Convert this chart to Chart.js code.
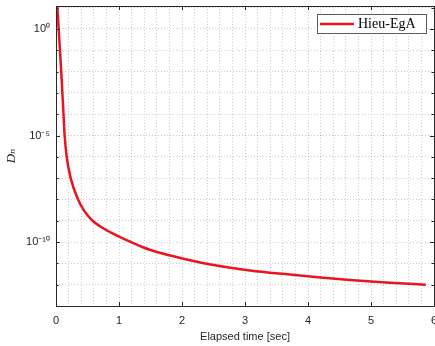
<!DOCTYPE html>
<html>
<head>
<meta charset="utf-8">
<script src="https://cdn.jsdelivr.net/npm/chart.js@4/dist/chart.umd.min.js"></script>
<style>
html,body{margin:0;padding:0;background:#fff;overflow:hidden;width:435px;height:346px;}
#wrap{position:absolute;left:0;top:0;width:435px;height:346px;}
</style>
</head>
<body>
<div id="wrap"><canvas id="c" width="435" height="346"></canvas></div>
<script>
// ---- data ----
const seriesName = 'Hieu-EgA';
const elapsedTime = [0.005, 0.02, 0.042, 0.083, 0.119, 0.137, 0.17, 0.233, 0.35, 0.44, 0.58, 0.71, 0.92, 1.19, 1.37, 1.50, 1.80, 2.02, 2.55, 3.08, 3.71, 4.24, 4.77, 5.30, 5.87];
const dnValues = [40, 12, 1, 1e-2, 1e-4, 1e-5, 1e-6, 1e-7, 1e-8, 3.16e-9, 1e-9, 5.25e-10, 2.34e-10, 1e-10, 5.89e-11, 4.27e-11, 2.40e-11, 1.66e-11, 7.94e-12, 4.68e-12, 3.02e-12, 2.14e-12, 1.58e-12, 1.23e-12, 1.0e-12];
const xMajorTicks = [0, 1, 2, 3, 4, 5, 6];
const yDecadeTicks = [1e1, 1e0, 1e-1, 1e-2, 1e-3, 1e-4, 1e-5, 1e-6, 1e-7, 1e-8, 1e-9, 1e-10, 1e-11, 1e-12, 1e-13];
const yMajorTicks = [1e0, 1e-5, 1e-10];
const yTickLabels = ['10\u2070', '10\u207B\u2075', '10\u207B\u00B9\u2070'];
const xTitle = 'Elapsed time [sec]';
const yTitle = 'D\u2099';

const points = elapsedTime.map((t, i) => ({x: t, y: dnValues[i]}));
const xMinorStep = 0.2;
const AXIS = '#262626';
const GRID = 'rgba(0,0,0,0.2)';

const framePlugin = {
  id: 'frame',
  afterDraw(chart) {
    const ctx = chart.ctx, a = chart.chartArea;
    const xs = chart.scales.x, ys = chart.scales.y;
    ctx.save();
    ctx.strokeStyle = AXIS; ctx.lineWidth = 1;
    ctx.beginPath();
    ctx.moveTo(Math.round(a.left) + 0.5, Math.round(a.bottom) + 0.5);
    ctx.lineTo(Math.round(a.left) + 0.5, Math.round(a.top) + 0.5);
    ctx.lineTo(Math.round(a.right) + 0.5, Math.round(a.top) + 0.5);
    ctx.lineTo(Math.round(a.right) + 0.5, Math.round(a.bottom) + 0.5);
    ctx.lineTo(Math.round(a.left) + 0.5, Math.round(a.bottom) + 0.5);
    ctx.stroke();
    ctx.beginPath();
    xMajorTicks.forEach(v => {
      const px = Math.round(xs.getPixelForValue(v)) + 0.5;
      ctx.moveTo(px, a.bottom); ctx.lineTo(px, a.bottom - 4);
      ctx.moveTo(px, a.top); ctx.lineTo(px, a.top + 4);
    });
    yDecadeTicks.forEach(v => {
      const py = Math.round(ys.getPixelForValue(v)) + 0.5;
      if (py < a.top || py > a.bottom + 1) return;
      const len = yMajorTicks.includes(v) ? 4 : 2.5;
      ctx.moveTo(a.left, py); ctx.lineTo(a.left + len, py);
      ctx.moveTo(a.right, py); ctx.lineTo(a.right - len, py);
    });
    ctx.stroke();
    // legend
    const ds = chart.data.datasets[0];
    const bx = 317, by = 14, bw = 109, bh = 19;
    ctx.fillStyle = '#ffffff';
    ctx.fillRect(bx, by, bw, bh);
    ctx.strokeStyle = '#5a5a5a'; ctx.lineWidth = 1;
    ctx.strokeRect(bx + 0.5, by + 0.5, bw, bh);
    ctx.strokeStyle = ds.borderColor; ctx.lineWidth = 2.5;
    ctx.beginPath(); ctx.moveTo(bx + 3, by + 10); ctx.lineTo(bx + 37, by + 10); ctx.stroke();
    ctx.fillStyle = '#000';
    ctx.font = '14px "Liberation Serif", "DejaVu Serif", serif';
    ctx.textBaseline = 'middle'; ctx.textAlign = 'left';
    ctx.fillText(ds.label, bx + 41, by + 10.5);
    ctx.restore();
  }
};

new Chart(document.getElementById('c'), {
  type: 'line',
  data: {
    datasets: [{
      label: seriesName,
      data: points,
      borderColor: '#e8141e',
      borderWidth: 2.5,
      pointRadius: 0,
      cubicInterpolationMode: 'monotone',
      fill: false
    }]
  },
  options: {
    responsive: false,
    animation: false,
    devicePixelRatio: 1,
    layout: {padding: {left: 0, right: 1, top: 6, bottom: 0}},
    plugins: {legend: {display: false}, tooltip: {enabled: false}},
    scales: {
      x: {
        type: 'linear', min: 0, max: 6,
        afterBuildTicks(scale) {
          const t = [];
          for (let k = 0; k <= 30; k++) t.push({value: Math.round(k * xMinorStep * 10) / 10});
          scale.ticks = t;
        },
        afterFit(scale) { scale.height = 40; scale.paddingLeft = 0; scale.paddingRight = 0; },
        grid: {color: GRID, lineWidth: 1, drawTicks: false},
        border: {display: false, dash: [1, 2]},
        ticks: {
          autoSkip: false, maxRotation: 0, padding: 8, color: AXIS,
          font: {family: '"Liberation Sans", Arial, sans-serif', size: 11},
          callback(v) { return xMajorTicks.includes(v) ? String(v) : ''; }
        },
        title: {display: true, text: xTitle, color: AXIS,
          font: {family: '"Liberation Sans", Arial, sans-serif', size: 11}, padding: {top: 0, bottom: 2}}
      },
      y: {
        type: 'logarithmic', min: 1e-13, max: 12,
        afterBuildTicks(scale) { scale.ticks = yDecadeTicks.map(v => ({value: v})); },
        afterFit(scale) { scale.width = 56; scale.paddingTop = 0; scale.paddingBottom = 0; },
        grid: {color: GRID, lineWidth: 1, drawTicks: false},
        border: {display: false, dash: [1, 2]},
        ticks: {
          autoSkip: false, padding: 6, color: AXIS,
          font: {family: '"Liberation Sans", Arial, sans-serif', size: 11},
          callback(v) { const i = yMajorTicks.indexOf(v); return i >= 0 ? yTickLabels[i] : ''; }
        },
        title: {display: true, text: yTitle, color: AXIS,
          font: {family: '"Liberation Serif", "DejaVu Serif", serif', size: 13, style: 'italic'}, padding: {top: 4, bottom: 0}}
      }
    }
  },
  plugins: [framePlugin]
});
</script>
</body>
</html>
